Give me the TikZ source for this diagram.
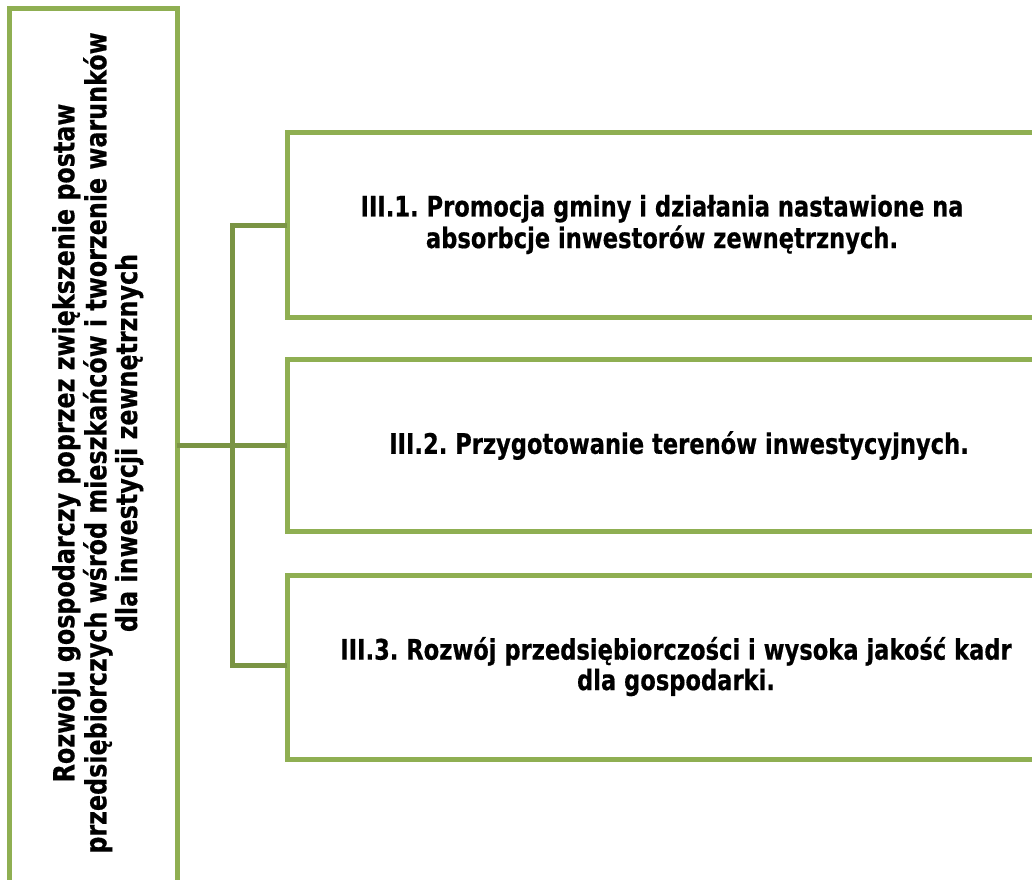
\documentclass[tikz,border=0pt]{standalone}
\usepackage{fontspec}
\setmainfont{DejaVu Sans}[BoldFeatures={FakeBold=0.6}]
\frenchspacing
\definecolor{boxgreen}{RGB}{143,175,82}
\definecolor{linegreen}{RGB}{122,148,68}
\newcommand{\rtext}[1]{\scalebox{1}[1.25]{\bfseries\fontsize{22.6}{24}\selectfont\begin{tabular}{@{}c@{}}#1\end{tabular}}}
\newcommand{\ltext}[1]{\scalebox{1}[1.22]{\bfseries\fontsize{23.8}{23.8}\selectfont\begin{tabular}{@{}c@{}}#1\end{tabular}}}
\begin{document}
\begin{tikzpicture}[x=1pt,y=-1pt,
  gbox/.style={draw=boxgreen,line width=5pt,fill=white},
  conn/.style={draw=linegreen,line width=5pt},
  txt/.style={text=black,inner sep=0pt}]
\useasboundingbox (0,0) rectangle (1032,879);
\clip (0,0) rectangle (1032,879);
% left box
\draw[gbox] (9,8) rectangle (177,895);
\coordinate (Lr) at (177,445);
\node[txt,rotate=90] (L) at (99,443) {\ltext{Rozwoju gospodarczy poprzez zwiększenie postaw\\przedsiębiorczych wśród mieszkańców i tworzenie warunków\\dla inwestycji zewnętrznych}};
% right boxes
\draw[gbox] (287,132) rectangle (1060,317);
\draw[gbox] (287,359) rectangle (1060,531);
\draw[gbox] (287,575) rectangle (1060,759);
\coordinate (B1) at (287,225);
\coordinate (B2) at (287,445);
\coordinate (B3) at (287,665);
\coordinate (J) at (232,445);
\coordinate (J1) at (232,225);
\coordinate (J3) at (232,665);
\node[txt] (T1) at (662,226) {\rtext{III.1. Promocja gminy i działania nastawione na\\absorbcje inwestorów zewnętrznych.}};
\node[txt] (T2) at (679,447) {\rtext{III.2. Przygotowanie terenów inwestycyjnych.}};
\node[txt] (T3) at (676,668) {\rtext{III.3. Rozwój przedsiębiorczości i wysoka jakość kadr\\dla gospodarki.}};
% connectors
\draw[conn] (Lr) -- (J);
\draw[conn,line cap=rect] (J1) -- (J3);
\draw[conn] (J1) -- (B1);
\draw[conn] (J) -- (B2);
\draw[conn] (J3) -- (B3);
\end{tikzpicture}
\end{document}
